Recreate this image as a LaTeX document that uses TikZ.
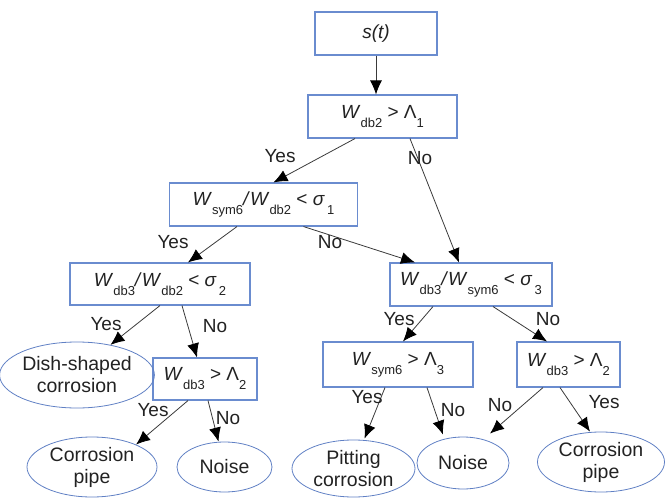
\documentclass[tikz,border=0pt]{standalone}
\usepackage{fontspec}
\setmainfont{Liberation Sans}
\usetikzlibrary{arrows.meta,shapes.geometric}
\definecolor{boxblue}{HTML}{6A8CCF}
\definecolor{ovalblue}{HTML}{6080C4}
\definecolor{edgegray}{HTML}{3A3A3A}
\definecolor{txt}{HTML}{222222}
\newcommand{\sbs}[1]{\raisebox{-9pt}{\fontsize{13}{13}\selectfont #1}}
\newcommand{\iW}{\textit{W}}
\begin{document}
\begin{tikzpicture}[x=1pt,y=-1pt,
 box/.style={draw=boxblue, line width=1.1pt, fill=white, rectangle, inner sep=0pt, text=txt, font=\fontsize{19}{22}\selectfont},
 oval/.style={draw=ovalblue, line width=0.8pt, ellipse, inner sep=0pt, align=center, text=txt, font=\fontsize{19.5}{22}\selectfont},
 edge/.style={draw=edgegray, line width=0.8pt, -{Latex[length=14pt,width=12pt,color=black]}},
 lbl/.style={text=txt, font=\fontsize{19}{21}\selectfont, inner sep=0pt}]
\useasboundingbox (0,0) rectangle (665,498);
% decision boxes
\node[box, minimum width=122pt, minimum height=43pt] (s)  at (376,33.5) {\textit{s(t)}};
\node[box, minimum width=149pt, minimum height=43pt] (n1) at (382.5,116.5) {\iW\sbs{db2} > Λ\sbs{1}};
\node[box, minimum width=188pt, minimum height=43pt] (n2) at (263.5,204.5) {\iW\sbs{sym6}\textit{/}\iW\sbs{db2} < \textit{σ}\sbs{\,1}};
\node[box, minimum width=180pt, minimum height=42pt] (n3) at (160,284) {\iW\sbs{db3}\textit{/}\iW\sbs{db2} < \textit{σ}\sbs{\,2}};
\node[box, minimum width=162pt, minimum height=43pt] (n4) at (471,284.5) {\iW\sbs{db3}\textit{/}\iW\sbs{sym6} < \textit{σ}\sbs{\,3}};
\node[box, minimum width=104pt, minimum height=42pt] (n5) at (205,379) {\iW\sbs{db3} > Λ\sbs{2}};
\node[box, minimum width=150pt, minimum height=45pt] (n6) at (398,364.5) {\iW\sbs{sym6} > Λ\sbs{3}};
\node[box, minimum width=103pt, minimum height=45pt] (n7) at (568.5,364.5) {\iW\sbs{db3} > Λ\sbs{2}};
% outcomes
\node[oval, minimum width=139pt, minimum height=66pt] (e1) at (77,375) {Dish-shaped\\corrosion};
\node[oval, minimum width=130pt, minimum height=60pt] (e2) at (92,467) {Corrosion\\pipe};
\node[oval, minimum width=95pt, minimum height=50pt] (e3) at (224.5,467) {Noise};
\node[oval, minimum width=123pt, minimum height=57pt] (e4) at (353.5,468.5) {Pitting\\corrosion};
\node[oval, minimum width=92pt, minimum height=52pt] (e5) at (463,463) {Noise};
\node[oval, minimum width=127pt, minimum height=60pt] (e6) at (601,462) {Corrosion\\pipe};
% connectors
\draw[edge] (s.south) -- ([xshift=-6.5pt]n1.north);
\draw[edge] ([xshift=-27.5pt]n1.south) -- ([xshift=10pt]n2.north);
\draw[edge] ([xshift=27.5pt]n1.south) -- ([xshift=-12pt]n4.north);
\draw[edge] ([xshift=-26.5pt]n2.south) -- ([xshift=28pt]n3.north);
\draw[edge] ([xshift=40pt]n2.south) -- ([xshift=-56pt]n4.north);
\draw[edge] (n3.south) -- (e1.42);
\draw[edge] ([xshift=22pt]n3.south) -- ([xshift=-8pt]n5.north);
\draw[edge] ([xshift=-38pt]n4.south) -- ([xshift=5pt]n6.north);
\draw[edge] ([xshift=22pt]n4.south) -- ([xshift=-21.5pt]n7.north);
\draw[edge] ([xshift=-17pt]n5.south) -- (e2.27);
\draw[edge] ([xshift=3pt]n5.south) -- ([xshift=-6pt]e3.north);
\draw[edge] ([xshift=-13pt]n6.south) -- ([xshift=11pt,yshift=1pt]e4.north);
\draw[edge] ([xshift=29pt]n6.south) -- ([xshift=-20pt,yshift=2pt]e5.north);
\draw[edge] ([xshift=-25.5pt]n7.south) -- ([xshift=27pt,yshift=3pt]e5.north);
\draw[edge] ([xshift=-8.5pt]n7.south) -- ([xshift=-11pt]e6.north);
% labels
\node[lbl] (l1) at (280,156) {Yes};
\node[lbl] (l2) at (420,158) {No};
\node[lbl] (l3) at (173,242) {Yes};
\node[lbl] (l4) at (330,242) {No};
\node[lbl] (l5) at (106,324) {Yes};
\node[lbl] (l6) at (215,326) {No};
\node[lbl] (l7) at (399,319) {Yes};
\node[lbl] (l8) at (548,319) {No};
\node[lbl] (l9) at (153,410) {Yes};
\node[lbl] (l10) at (228,418) {No};
\node[lbl] (l11) at (367,397) {Yes};
\node[lbl] (l12) at (453,410) {No};
\node[lbl] (l13) at (500,405) {No};
\node[lbl] (l14) at (604,402) {Yes};
\end{tikzpicture}
\end{document}
